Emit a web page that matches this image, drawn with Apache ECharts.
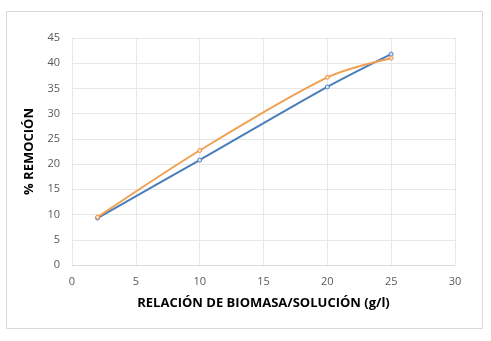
<!DOCTYPE html>
<html>
<head>
<meta charset="utf-8">
<script src="https://cdn.jsdelivr.net/npm/echarts@6/dist/echarts.min.js"></script>
<style>
  html, body { margin: 0; padding: 0; background: #fff; }
  #chart { width: 491px; height: 341px; }
</style>
</head>
<body>
<div id="chart"></div>
<script>
// data
const relacion = [2, 10, 20, 25];
const serieAzul = [9.3, 20.8, 35.3, 41.8];
const serieNaranja = [9.5, 22.7, 37.2, 41.0];
const xTicks = [0, 5, 10, 15, 20, 25, 30];
const yTicks = [0, 5, 10, 15, 20, 25, 30, 35, 40, 45];

const chart = echarts.init(document.getElementById('chart'));

function pares(xs, ys) {
    return xs.map((x, i) => [x, ys[i]]);
}

const option = {
    animation: false,
    graphic: [{
        type: 'rect',
        shape: { x: 6.5, y: 11.5, width: 476, height: 317 },
        style: { fill: 'none', stroke: '#d9d9d9', lineWidth: 1 },
        silent: true
    }],
    grid: { left: 72, right: 36, top: 38, bottom: 76 },
    xAxis: {
        type: 'value',
        min: xTicks[0],
        max: xTicks[xTicks.length - 1],
        interval: 5,
        name: 'RELACIÓN DE BIOMASA/SOLUCIÓN (g/l)',
        nameLocation: 'center',
        nameGap: 32,
        nameTextStyle: { fontFamily: 'Open Sans', fontWeight: 'bold', fontSize: 13, color: '#000' },
        axisLine: { lineStyle: { color: '#d9d9d9' } },
        axisTick: { show: false },
        axisLabel: { fontFamily: 'Open Sans', fontSize: 11, color: '#595959', margin: 11 },
        splitLine: { lineStyle: { color: '#e8e8e8' } }
    },
    yAxis: {
        type: 'value',
        min: yTicks[0],
        max: yTicks[yTicks.length - 1],
        interval: 5,
        name: '% REMOCIÓN',
        nameLocation: 'center',
        nameGap: 36,
        nameTextStyle: { fontFamily: 'Open Sans', fontWeight: 'bold', fontSize: 13, color: '#000' },
        axisLine: { show: false },
        axisTick: { show: false },
        axisLabel: { fontFamily: 'Open Sans', fontSize: 11, color: '#595959', margin: 12 },
        splitLine: { lineStyle: { color: '#e8e8e8' } }
    },
    series: [
        {
            type: 'line',
            smooth: 0.3,
            data: pares(relacion, serieAzul),
            symbol: 'circle',
            symbolSize: 4,
            lineStyle: { color: '#4a7ebb', width: 2 },
            itemStyle: { color: '#dce6f2', borderColor: '#4a7ebb', borderWidth: 1 }
        },
        {
            type: 'line',
            smooth: 0.3,
            data: pares(relacion, serieNaranja),
            symbol: 'circle',
            symbolSize: 4,
            lineStyle: { color: '#f0a050', width: 2 },
            itemStyle: { color: '#fbe0c4', borderColor: '#ed9045', borderWidth: 1 }
        }
    ]
};

chart.setOption(option);
</script>
</body>
</html>
